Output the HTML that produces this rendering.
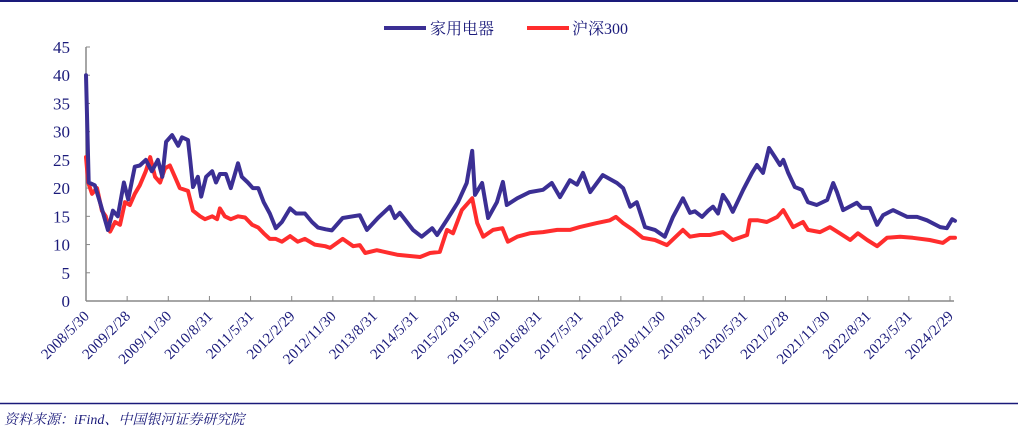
<!DOCTYPE html>
<html><head><meta charset="utf-8"><style>
body{margin:0;background:#fff;width:1018px;height:431px;overflow:hidden;font-family:"Liberation Serif","Noto Serif CJK SC",serif;}
svg{display:block}
</style></head><body>
<svg id="chart" width="1018" height="431">
<line x1="0" y1="1" x2="1018" y2="1" stroke="#1a1a7a" stroke-width="2"/>
<line x1="0" y1="403.5" x2="1018" y2="403.5" stroke="#1a1a7a" stroke-width="1.5"/>
<g>
<g><line x1="384" y1="28" x2="426" y2="28" stroke="#3b2f94" stroke-width="4"/><text x="430" y="34" font-size="16" fill="#1a1a7a">家用电器</text></g>
<g><line x1="527" y1="28" x2="569" y2="28" stroke="#ff2d2d" stroke-width="4"/><text x="572" y="34" font-size="16" fill="#1a1a7a">沪深300</text></g>
</g>
<text x="4" y="424" font-size="14" font-style="italic" fill="#1a1a7a">资料来源：iFind、中国银河证券研究院</text>
<g id="axes"></g><g id="series"></g>
</svg>
<script>
const yTicks=[0,5,10,15,20,25,30,35,40,45];
const xTickLabels=["2008/5/30","2009/2/28","2009/11/30","2010/8/31","2011/5/31","2012/2/29","2012/11/30","2013/8/31","2014/5/31","2015/2/28","2015/11/30","2016/8/31","2017/5/31","2018/2/28","2018/11/30","2019/8/31","2020/5/31","2021/2/28","2021/11/30","2022/8/31","2023/5/31","2024/2/29"];
const applianceDates=[2008.41,2008.46,2008.57,2008.68,2008.81,2008.90,2008.99,2009.10,2009.18,2009.30,2009.39,2009.50,2009.61,2009.72,2009.80,2009.87,2009.98,2010.09,2010.16,2010.27,2010.31,2010.36,2010.45,2010.51,2010.60,2010.71,2010.78,2010.85,2010.96,2011.05,2011.18,2011.25,2011.36,2011.45,2011.55,2011.65,2011.76,2011.87,2011.98,2012.13,2012.24,2012.40,2012.53,2012.64,2012.78,2012.89,2013.09,2013.40,2013.53,2013.73,2013.95,2014.04,2014.13,2014.37,2014.53,2014.72,2014.81,2015.01,2015.19,2015.35,2015.45,2015.50,2015.63,2015.74,2015.90,2016.01,2016.08,2016.27,2016.50,2016.74,2016.90,2017.05,2017.23,2017.36,2017.47,2017.60,2017.83,2018.09,2018.20,2018.33,2018.45,2018.60,2018.78,2018.96,2019.11,2019.29,2019.42,2019.51,2019.64,2019.75,2019.84,2019.93,2020.02,2020.11,2020.20,2020.39,2020.55,2020.64,2020.75,2020.86,2020.97,2021.06,2021.12,2021.21,2021.33,2021.46,2021.57,2021.73,2021.92,2022.03,2022.10,2022.21,2022.46,2022.55,2022.70,2022.83,2022.94,2023.12,2023.38,2023.56,2023.74,2023.98,2024.10,2024.20,2024.25];
const applianceValues=[40,21,20.5,17,12.6,16,15,21,18,23.8,24,25,23,25,22,28.2,29.4,27.5,29,28.5,25,20.2,22,18.5,22,23,21,22.5,22.5,20,24.4,22,21,20,20,17.5,15.5,12.9,14,16.4,15.5,15.5,14,13,12.7,12.5,14.7,15.2,12.6,14.7,16.7,14.7,15.6,12.6,11.4,12.9,11.7,14.7,17.5,20.9,26.6,18.8,20.9,14.7,17.5,21.1,17,18.2,19.3,19.7,20.9,18.4,21.4,20.6,22.7,19.3,22.3,20.9,20,16.7,17.5,13.1,12.6,11.4,14.9,18.2,15.6,15.9,14.9,16,16.7,15.5,18.8,17.5,15.8,19.7,22.7,24.1,22.7,27.1,25.5,24.1,25,22.7,20.2,19.7,17.5,17,17.9,20.9,19.3,16.1,17.4,16.5,16.5,13.5,15.2,16.1,14.9,14.9,14.3,13.1,12.9,14.5,14.2];
const csiDates=[2008.41,2008.45,2008.52,2008.61,2008.70,2008.77,2008.85,2008.94,2009.03,2009.12,2009.21,2009.30,2009.39,2009.50,2009.58,2009.67,2009.76,2009.85,2009.94,2010.03,2010.12,2010.27,2010.36,2010.49,2010.58,2010.71,2010.80,2010.85,2010.94,2011.05,2011.18,2011.31,2011.44,2011.55,2011.65,2011.76,2011.87,2011.98,2012.13,2012.27,2012.40,2012.58,2012.77,2012.86,2013.09,2013.28,2013.40,2013.50,2013.71,2014.08,2014.50,2014.68,2014.86,2014.99,2015.10,2015.26,2015.45,2015.54,2015.65,2015.83,2016.00,2016.10,2016.27,2016.50,2016.74,2017.00,2017.23,2017.41,2017.72,2017.96,2018.07,2018.20,2018.38,2018.56,2018.78,2019.00,2019.29,2019.42,2019.60,2019.78,2020.02,2020.20,2020.46,2020.51,2020.66,2020.82,2021.01,2021.12,2021.30,2021.48,2021.57,2021.79,2021.97,2022.15,2022.34,2022.48,2022.65,2022.83,2023.01,2023.25,2023.48,2023.79,2024.03,2024.16,2024.25];
const csiValues=[25.5,21,19,20,16,15,12.3,14,13.5,17.5,17,19,20.5,23,25.5,22,21,23.5,24,22,20,19.5,16,15,14.5,15,14.5,16.4,15,14.5,15,14.8,13.5,13,12,11,11,10.5,11.5,10.5,11,10,9.7,9.4,11,9.7,9.9,8.5,9,8.2,7.8,8.5,8.7,12.6,12,16.1,18.2,13.8,11.4,12.6,12.9,10.5,11.4,12,12.2,12.6,12.6,13.1,13.8,14.3,14.9,13.8,12.6,11.2,10.8,9.9,12.6,11.4,11.7,11.7,12.2,10.8,11.7,14.3,14.3,14,14.9,16.1,13.1,14,12.6,12.2,13.1,12,10.8,12,10.8,9.7,11.2,11.4,11.2,10.8,10.3,11.2,11.2];
const NS='http://www.w3.org/2000/svg';
const X0=86,X1=954,Y0=301,YTOP=47,T0=2008.41,TPX=54.86;
const xs=t=>X0+(t-T0)*TPX;
const ys=v=>Y0-(v/45)*(Y0-YTOP);
const axes=document.getElementById('axes'),ser=document.getElementById('series');
function mk(tag,attrs,parent){const e=document.createElementNS(NS,tag);for(const k in attrs)e.setAttribute(k,attrs[k]);parent.appendChild(e);return e;}
let e=mk('line',{x1:X0,y1:YTOP,x2:X0,y2:Y0,stroke:'#888','stroke-width':1.5},axes);


e=mk('line',{x1:X0,y1:Y0,x2:X1,y2:Y0,stroke:'#888','stroke-width':1.5},axes);


yTicks.forEach(v=>{
 const t=mk('line',{x1:X0,y1:ys(v),x2:X0+4,y2:ys(v),stroke:'#888','stroke-width':1},axes);
 
 
 const l=mk('text',{x:X0-16,y:ys(v)+6,'font-size':17,fill:'#1a1a7a','text-anchor':'end'},axes);
 l.textContent=v;
 
 
});
const step=(X1-4-X0)/(xTickLabels.length-1);
xTickLabels.forEach((s,i)=>{
 const x=X0+i*step;
 const t=mk('line',{x1:x,y1:Y0,x2:x,y2:Y0-5,stroke:'#888','stroke-width':1},axes);
 
 
 const ax=x+4,ay=Y0+16;
 const l=mk('text',{x:ax,y:ay,'font-size':15,fill:'#1a1a7a','text-anchor':'end',transform:`rotate(-45 ${ax} ${ay})`},axes);
 l.textContent=s;
 
 
});
function line(dates,vals,color,name){
 const d=dates.map((t,i)=>(i?'L':'M')+xs(t).toFixed(1)+','+ys(vals[i]).toFixed(1)).join('');
 const p=mk('path',{d:d,fill:'none',stroke:color,'stroke-width':4,'stroke-linejoin':'round','stroke-linecap':'round'},ser);
 
 
}
line(csiDates,csiValues,'#ff2d2d','csi300-line');
line(applianceDates,applianceValues,'#3b2f94','appliance-line');
</script>
</body></html>
